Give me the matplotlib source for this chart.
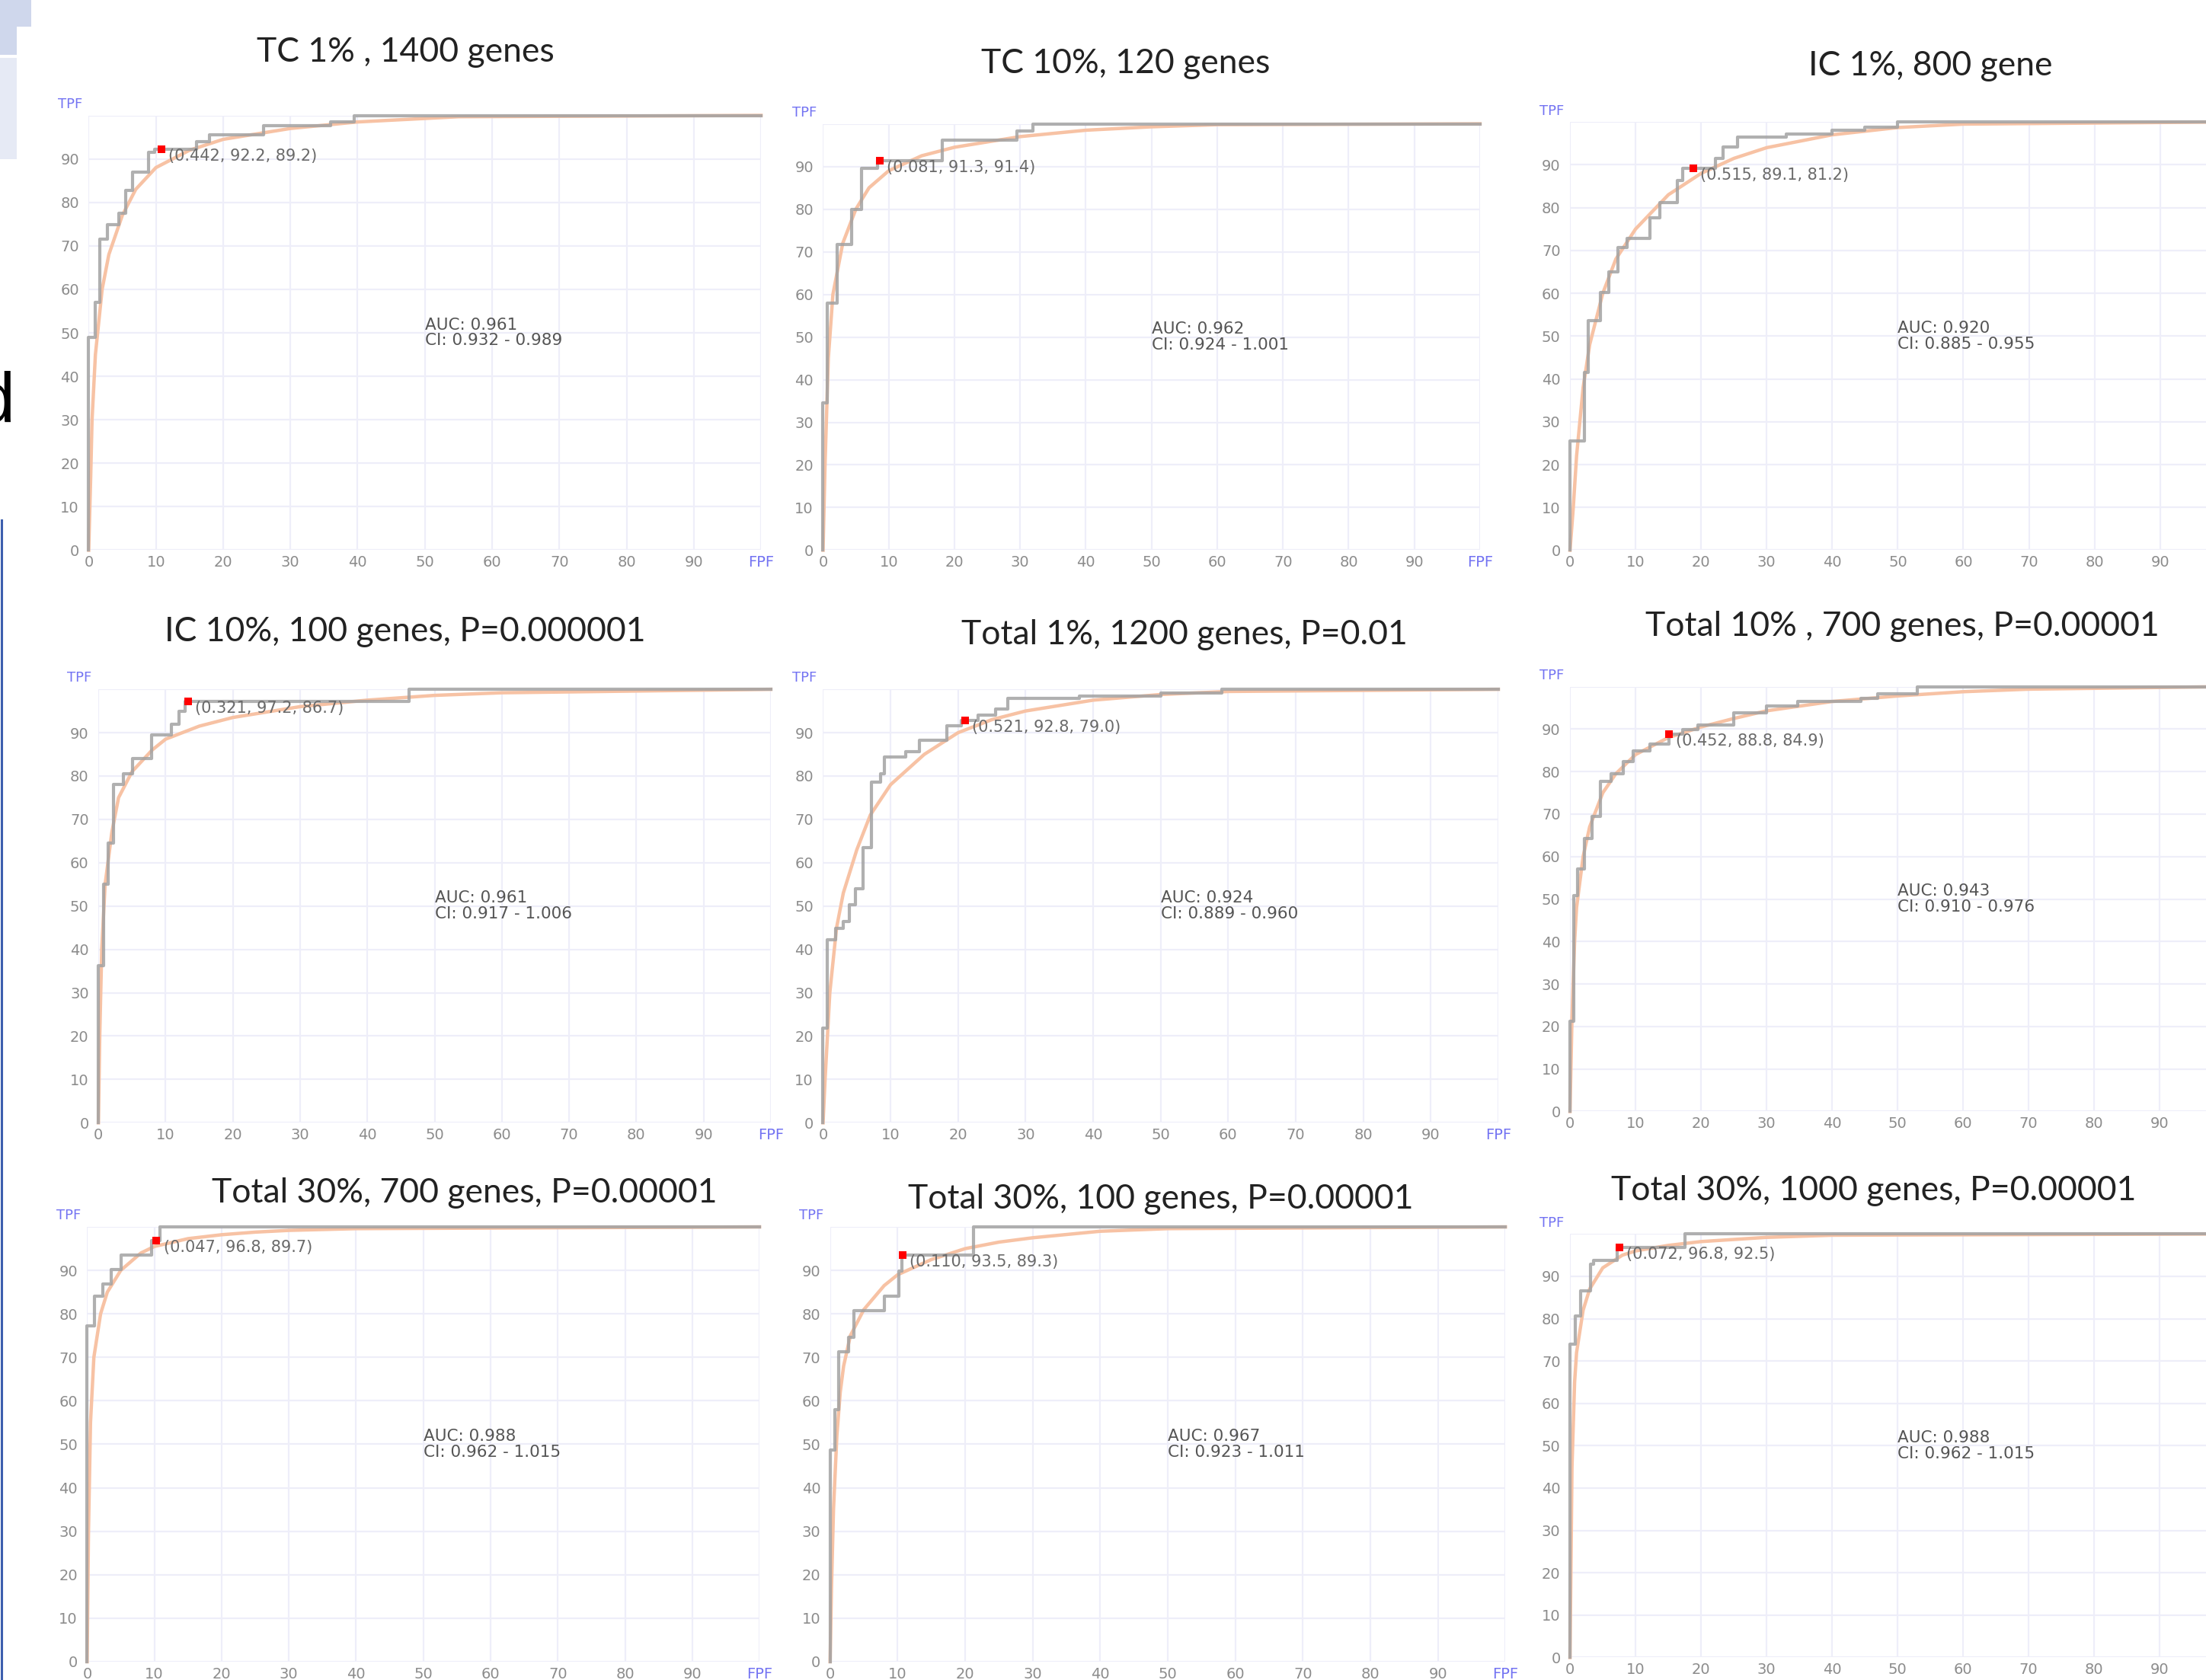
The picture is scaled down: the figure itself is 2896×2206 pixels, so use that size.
import matplotlib
matplotlib.use('Agg')
import matplotlib.pyplot as plt
from matplotlib.patches import Rectangle
from matplotlib.lines import Line2D

# ---------------- data ----------------
TITLES = [
    "TC 1% , 1400 genes",
    "TC 10%, 120 genes",
    "IC 1%, 800 gene",
    "IC 10%, 100 genes, P=0.000001",
    "Total 1%, 1200 genes, P=0.01",
    "Total 10% , 700 genes, P=0.00001",
    "Total 30%, 700 genes, P=0.00001",
    "Total 30%, 100 genes, P=0.00001",
    "Total 30%, 1000 genes, P=0.00001",
]

AUC = ["0.961", "0.962", "0.920", "0.961", "0.924", "0.943", "0.988", "0.967", "0.988"]
CI = ["0.932 - 0.989", "0.924 - 1.001", "0.885 - 0.955", "0.917 - 1.006", "0.889 - 0.960",
      "0.910 - 0.976", "0.962 - 1.015", "0.923 - 1.011", "0.962 - 1.015"]

# optimal cut point: (FPF, TPF) and its label
CUT_FPF = [10.8, 8.6, 18.8, 13.3, 21.0, 15.1, 10.3, 10.7, 7.5]
CUT_TPF = [92.2, 91.3, 89.1, 97.2, 92.8, 88.8, 96.8, 93.5, 96.8]
CUT_LABEL = ["(0.442, 92.2, 89.2)", "(0.081, 91.3, 91.4)", "(0.515, 89.1, 81.2)",
             "(0.321, 97.2, 86.7)", "(0.521, 92.8, 79.0)", "(0.452, 88.8, 84.9)",
             "(0.047, 96.8, 89.7)", "(0.110, 93.5, 89.3)", "(0.072, 96.8, 92.5)"]

# empirical (step) ROC curves, vertices (FPF, TPF)
STEP_1 = [(0,0),(0,49),(1,49),(1,57),(1.7,57),(1.7,71.5),(2.8,71.5),(2.8,74.8),(4.5,74.8),(4.5,77.5),
          (5.5,77.5),(5.5,82.8),(6.5,82.8),(6.5,87),(8.9,87),(8.9,91.5),(9.8,91.5),(9.8,92.2),(16,92.2),
          (16,94),(18,94),(18,95.5),(26,95.5),(26,97.6),(36,97.6),(36,98.5),(39.5,98.5),(39.5,100),(100,100)]
STEP_2 = [(0,0),(0,34.5),(0.6,34.5),(0.6,58),(2.2,58),(2.2,71.7),(4.3,71.7),(4.3,80),(5.9,80),(5.9,89.6),
          (8.3,89.6),(8.3,91.3),(18.1,91.3),(18.1,96.2),(29.5,96.2),(29.5,98.3),(31.9,98.3),(31.9,100),(100,100)]
STEP_3 = [(0,0),(0,25.5),(2.2,25.5),(2.2,41.5),(2.8,41.5),(2.8,53.7),(4.6,53.7),(4.6,60.2),(5.9,60.2),(5.9,65),
          (7.3,65),(7.3,70.6),(8.75,70.6),(8.75,72.8),(12.2,72.8),(12.2,77.7),(13.75,77.7),(13.75,81.2),
          (16.4,81.2),(16.4,86.4),(17.2,86.4),(17.2,89.1),(22.2,89.1),(22.2,91.5),(23.4,91.5),(23.4,94.1),
          (25.6,94.1),(25.6,96.5),(33,96.5),(33,97.2),(40,97.2),(40,98),(45,98),(45,98.7),(50,98.7),(50,100),(100,100)]
STEP_4 = [(0,0),(0,36.3),(0.75,36.3),(0.75,55),(1.5,55),(1.5,64.5),(2.25,64.5),(2.25,78),(3.75,78),(3.75,80.5),
          (5.1,80.5),(5.1,84),(7.9,84),(7.9,89.4),(10.9,89.4),(10.9,91.9),(12,91.9),(12,94.9),(12.9,94.9),
          (12.9,97.2),(46.2,97.2),(46.2,100),(100,100)]
STEP_5 = [(0,0),(0,21.8),(0.6,21.8),(0.6,42.2),(1.85,42.2),(1.85,44.8),(3,44.8),(3,46.5),(3.9,46.5),(3.9,50.3),
          (4.8,50.3),(4.8,54),(5.9,54),(5.9,63.5),(7.2,63.5),(7.2,78.6),(8.5,78.6),(8.5,80.5),(9.1,80.5),
          (9.1,84.3),(12.2,84.3),(12.2,85.6),(14.3,85.6),(14.3,88.3),(18.3,88.3),(18.3,91.5),(20.5,91.5),
          (20.5,92.8),(23,92.8),(23,94),(25.6,94),(25.6,95.5),(27.4,95.5),(27.4,97.9),(38,97.9),(38,98.5),
          (50,98.5),(50,99.2),(59,99.2),(59,100),(100,100)]
STEP_6 = [(0,0),(0,21.3),(0.6,21.3),(0.6,50.8),(1.2,50.8),(1.2,57),(2.2,57),(2.2,64.2),(3.4,64.2),(3.4,69.4),
          (4.6,69.4),(4.6,77.7),(6.25,77.7),(6.25,79.5),(8.1,79.5),(8.1,82.3),(9.6,82.3),(9.6,84.8),(12.2,84.8),
          (12.2,86.4),(15.1,86.4),(15.1,88.8),(17.2,88.8),(17.2,89.9),(19.5,89.9),(19.5,90.9),(25,90.9),
          (25,93.8),(30,93.8),(30,95.5),(34.7,95.5),(34.7,96.5),(44.4,96.5),(44.4,97.2),(47,97.2),(47,98.4),
          (53,98.4),(53,100),(100,100)]
STEP_7 = [(0,0),(0,77.2),(1.05,77.2),(1.05,84.1),(2.3,84.1),(2.3,86.8),(3.6,86.8),(3.6,90.2),(5.1,90.2),
          (5.1,93.5),(9.6,93.5),(9.6,96.8),(10.8,96.8),(10.8,100),(100,100)]
STEP_8 = [(0,0),(0,48.7),(0.75,48.7),(0.75,57.9),(1.3,57.9),(1.3,71.2),(2.75,71.2),(2.75,74.6),(3.5,74.6),
          (3.5,80.7),(8,80.7),(8,84),(10.2,84),(10.2,89.9),(10.6,89.9),(10.6,93.5),(21.2,93.5),(21.2,100),(100,100)]
STEP_9 = [(0,0),(0,74),(0.8,74),(0.8,80.7),(1.6,80.7),(1.6,86.6),(3.1,86.6),(3.1,92.9),(3.6,92.9),(3.6,93.7),
          (7.2,93.7),(7.2,96.8),(17.5,96.8),(17.5,100),(100,100)]

FIT_1 = [(0,0),(0.3,17),(0.5,30),(1,45),(2,60),(3,68),(5,77),(7,83),(10,88),(15,92),(20,94.5),(30,97),
         (40,98.5),(55,99.7),(100,100)]
FIT_2 = [(0,0),(0.3,20),(0.8,45),(1.5,60),(3,72),(5,80),(7,85),(10,89),(15,92.5),(20,94.5),(30,97),
         (40,98.5),(50,99.3),(60,99.8),(100,100)]
FIT_3 = [(0,0),(0.5,10),(1,22),(2,38),(3,48),(5,60),(7,68),(10,75),(15,83),(20,88),(25,91.5),(30,94),
         (40,97),(50,98.7),(60,99.5),(100,100)]
FIT_4 = [(0,0),(0.2,20),(0.5,40),(1,55),(2,67),(3,75),(5,81),(8,86),(10,88.5),(15,91.5),(20,93.5),(30,96),
         (40,97.5),(50,98.6),(60,99.2),(100,100)]
FIT_5 = [(0,0),(0.3,10),(1,30),(2,45),(3,53),(5,63),(7,71),(10,78),(15,85),(20,90),(25,93),(30,95),
         (40,97.5),(50,98.8),(60,99.5),(100,100)]
FIT_6 = [(0,0),(0.3,22),(0.7,40),(1,48),(2,60),(3,67),(5,75),(7,79.5),(10,84),(15,88),(20,90.5),(25,92.5),
         (30,94.3),(40,96.5),(50,97.8),(60,98.8),(70,99.4),(100,100)]
FIT_7 = [(0,0),(0.2,30),(0.5,55),(1,70),(2,80),(3,85),(5,90),(8,94),(10,95.5),(15,97.3),(20,98.2),(25,98.8),
         (30,99.2),(40,99.6),(100,100)]
FIT_8 = [(0,0),(0.2,17),(0.5,35),(1,52),(1.5,62),(2,68),(3,75),(5,81),(8,86.5),(10,89),(15,92.5),(20,95),
         (25,96.5),(30,97.5),(40,99),(50,99.6),(100,100)]
FIT_9 = [(0,0),(0.3,45),(0.7,65),(1,72),(2,82),(3,87),(5,92),(8,95),(10,96),(15,97.3),(20,98.2),(30,99.2),
         (40,99.7),(100,100)]

STEPS = [STEP_1, STEP_2, STEP_3, STEP_4, STEP_5, STEP_6, STEP_7, STEP_8, STEP_9]
FITS = [FIT_1, FIT_2, FIT_3, FIT_4, FIT_5, FIT_6, FIT_7, FIT_8, FIT_9]

X_TICKS = [0, 10, 20, 30, 40, 50, 60, 70, 80, 90, 100]
X_TICK_LABELS = ["0", "10", "20", "30", "40", "50", "60", "70", "80", "90", "FPF"]
Y_TICKS = [0, 10, 20, 30, 40, 50, 60, 70, 80, 90, 100]
Y_TICK_LABELS = ["0", "10", "20", "30", "40", "50", "60", "70", "80", "90", ""]

# ---------------- layout ----------------
W, H = 2896, 2206
SX, SY = W / 1568.0, H / 1194.0

# axes rectangles in figure fractions [left, bottom, width, height]
AX_RECTS = [
    [0.0402, 0.6725, 0.3048, 0.2588],
    [0.3731, 0.6725, 0.2978, 0.2538],
    [0.7117, 0.6725, 0.2972, 0.2549],
    [0.0446, 0.3317, 0.3048, 0.2580],
    [0.3731, 0.3317, 0.3061, 0.2580],
    [0.7117, 0.3384, 0.2970, 0.2529],
    [0.0395, 0.0109, 0.3048, 0.2588],
    [0.3763, 0.0109, 0.3061, 0.2588],
    [0.7117, 0.0134, 0.2970, 0.2521],
]
# panels whose right end is cut off by the picture edge
CUT_RIGHT = [False, False, True, False, False, True, False, False, True]
# title centres in reference (1568x1194) pixel coords
TITLE_POS = [(288, 37), (800, 45), (1372, 47), (288, 449), (842, 451), (1352, 445),
             (330, 848), (825, 852), (1332, 846)]

NARROW = ['Liberation Sans Narrow', 'DejaVu Sans']
TITLE_FONT = ['Lato', 'DejaVu Sans']

GRAY = '#a2a2a2'
PEACH = '#f7c2a4'
BLUE = '#7373f2'
GRID = '#eeeef9'

fig = plt.figure(figsize=(W / 100, H / 100), dpi=100)
fig.patch.set_facecolor('white')

for i in range(9):
    ax = fig.add_axes(AX_RECTS[i])
    ax.set_xlim(0, 100)
    ax.set_ylim(0, 100)
    for s in ax.spines.values():
        s.set_visible(False)
    xl = list(X_TICK_LABELS)
    if CUT_RIGHT[i]:
        xl[-1] = ""
    ax.set_xticks(X_TICKS)
    ax.set_xticklabels(xl, fontfamily=NARROW)
    ax.set_yticks(Y_TICKS)
    ax.set_yticklabels(Y_TICK_LABELS, fontfamily=NARROW)
    ax.tick_params(length=0, labelsize=14, labelcolor='#8c8c8c')
    ax.tick_params(axis='y', pad=9)
    ax.tick_params(axis='x', pad=5)
    ax.get_xticklabels()[-1].set_color(BLUE)
    ax.grid(True, color=GRID, lw=1.6)
    ax.set_axisbelow(True)

    ax.text(-2.8, 102.6, 'TPF', color=BLUE, fontsize=13, ha='center', va='center',
            fontfamily=NARROW, clip_on=False)

    fx = [p[0] for p in FITS[i]]
    fy = [p[1] for p in FITS[i]]
    ax.plot(fx, fy, color=PEACH, lw=3.2, clip_on=False, zorder=3, solid_joinstyle='round')
    sx = [p[0] for p in STEPS[i]]
    sy = [p[1] for p in STEPS[i]]
    ax.plot(sx, sy, color=GRAY, lw=3.0, clip_on=False, zorder=4, alpha=0.85)

    ax.plot([CUT_FPF[i]], [CUT_TPF[i]], 's', color='red', ms=6.5, mew=0, zorder=6, clip_on=False)
    ax.text(CUT_FPF[i] + 1.1, CUT_TPF[i] - 1.6, CUT_LABEL[i], fontsize=15, color='#6a6a6a',
            ha='left', va='center', fontfamily=NARROW, zorder=7)

    ax.text(50, 50, "AUC: %s\nCI: %s" % (AUC[i], CI[i]), fontsize=15.5, color='#555555',
            ha='left', va='center', fontfamily=NARROW, linespacing=1.05)

    tx, ty = TITLE_POS[i]
    fig.text(tx * SX / W, 1 - ty * SY / H, TITLES[i], fontsize=32, color='#222222',
             ha='center', va='center', fontfamily=TITLE_FONT)

# slide decorations at the left edge
fig.add_artist(Rectangle((0, 1 - 35 / H), 41 / W, 35 / H, transform=fig.transFigure,
                         color='#cfd7ec', lw=0))
fig.add_artist(Rectangle((0, 1 - 72 / H), 22 / W, 37 / H, transform=fig.transFigure,
                         color='#cfd7ec', lw=0))
fig.add_artist(Rectangle((0, 1 - 209 / H), 22 / W, 133 / H, transform=fig.transFigure,
                         color='#e6eaf5', lw=0))
fig.text(19 / W, 1 - 554 / H, 'd', fontsize=66, color='black', ha='right', va='baseline',
         fontfamily=['Liberation Sans', 'DejaVu Sans'])
fig.add_artist(Line2D([2 / W, 2 / W], [1 - 683 / H, 0], transform=fig.transFigure,
                      color='#3d5fae', lw=2.2))

fig.savefig('out.png', dpi=100, facecolor='white')
